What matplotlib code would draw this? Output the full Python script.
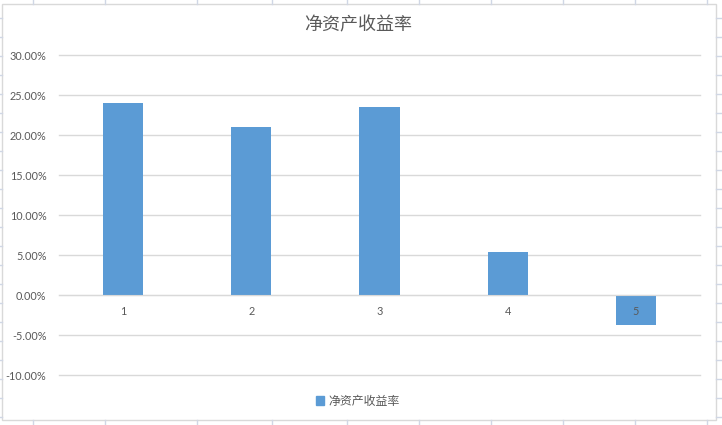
import numpy as np
import matplotlib.pyplot as plt
from matplotlib.lines import Line2D
from matplotlib.patches import Rectangle
from matplotlib.ticker import FuncFormatter

categories = ['1', '2', '3', '4', '5']
roe = [24.0, 21.0, 23.5, 5.4, -3.8]  # percent
series_name = '净资产收益率'
yticks = [-10, -5, 0, 5, 10, 15, 20, 25, 30]

plt.rcParams['font.family'] = ['Lato', 'Noto Sans CJK SC', 'DejaVu Sans']

W, H = 722, 425
fig = plt.figure(figsize=(W / 100, H / 100), dpi=100)
fig.patch.set_facecolor('white')

# spreadsheet cells peeking out around the chart object
sheet_col = '#d0d7e5'
for x in [33, 105, 197, 272, 347, 419, 491, 563, 635, 707]:
    fig.add_artist(Line2D([x / W, x / W], [1 - 4 / H, 1], color=sheet_col, lw=1))
    fig.add_artist(Line2D([x / W, x / W], [0, 1 - 420 / H], color=sheet_col, lw=1))
for y in np.arange(18, 425, 19):
    fig.add_artist(Line2D([0, 2 / W], [1 - y / H, 1 - y / H], color=sheet_col, lw=1))
    fig.add_artist(Line2D([716 / W, 1], [1 - y / H, 1 - y / H], color=sheet_col, lw=1))
fig.add_artist(Rectangle((2 / W, 1 - 420 / H), 714 / W, 416 / H, facecolor='white',
                         edgecolor='#d9d9d9', lw=1, zorder=0))

ax = fig.add_axes([59 / W, 1 - 375 / H, 641 / W, 320 / H])
ax.set_facecolor('none')
x = np.arange(len(categories))
ax.bar(x, roe, width=0.3125, color='#5b9bd5', zorder=1)

# gridlines under the bars, category labels above them
for v in yticks:
    ax.axhline(v, color='#d9d9d9', lw=1, zorder=0, clip_on=False)
ax.set_axisbelow(False)

ax.set_xlim(-0.5, len(categories) - 0.5)
ax.set_ylim(-10, 30)
ax.set_yticks(yticks)
ax.yaxis.set_major_formatter(FuncFormatter(lambda v, p: f'{v:.2f}%'))
for s in ['top', 'right', 'left']:
    ax.spines[s].set_visible(False)
ax.spines['bottom'].set_position(('data', 0))
ax.spines['bottom'].set_color('#d9d9d9')
ax.set_xticks(x)
ax.set_xticklabels(categories)
ax.tick_params(axis='both', length=0, labelsize=7.8, labelcolor='#595959')
ax.tick_params(axis='x', pad=8)
ax.tick_params(axis='y', pad=9)

fig.text(358 / W, 1 - 25 / H, series_name, ha='center', va='center', fontsize=13,
         color='#595959', family=['Noto Sans CJK SC'], fontweight='light')

fig.legend([Rectangle((0, 0), 1, 1, color='#5b9bd5')], [series_name],
           loc='center', bbox_to_anchor=(358 / W, 1 - 401 / H), frameon=False,
           prop={'family': 'Noto Sans CJK SC', 'size': 8.6}, labelcolor='#595959',
           handlelength=0.7, handleheight=0.7, handletextpad=0.4)

fig.savefig('out.png', dpi=100)
